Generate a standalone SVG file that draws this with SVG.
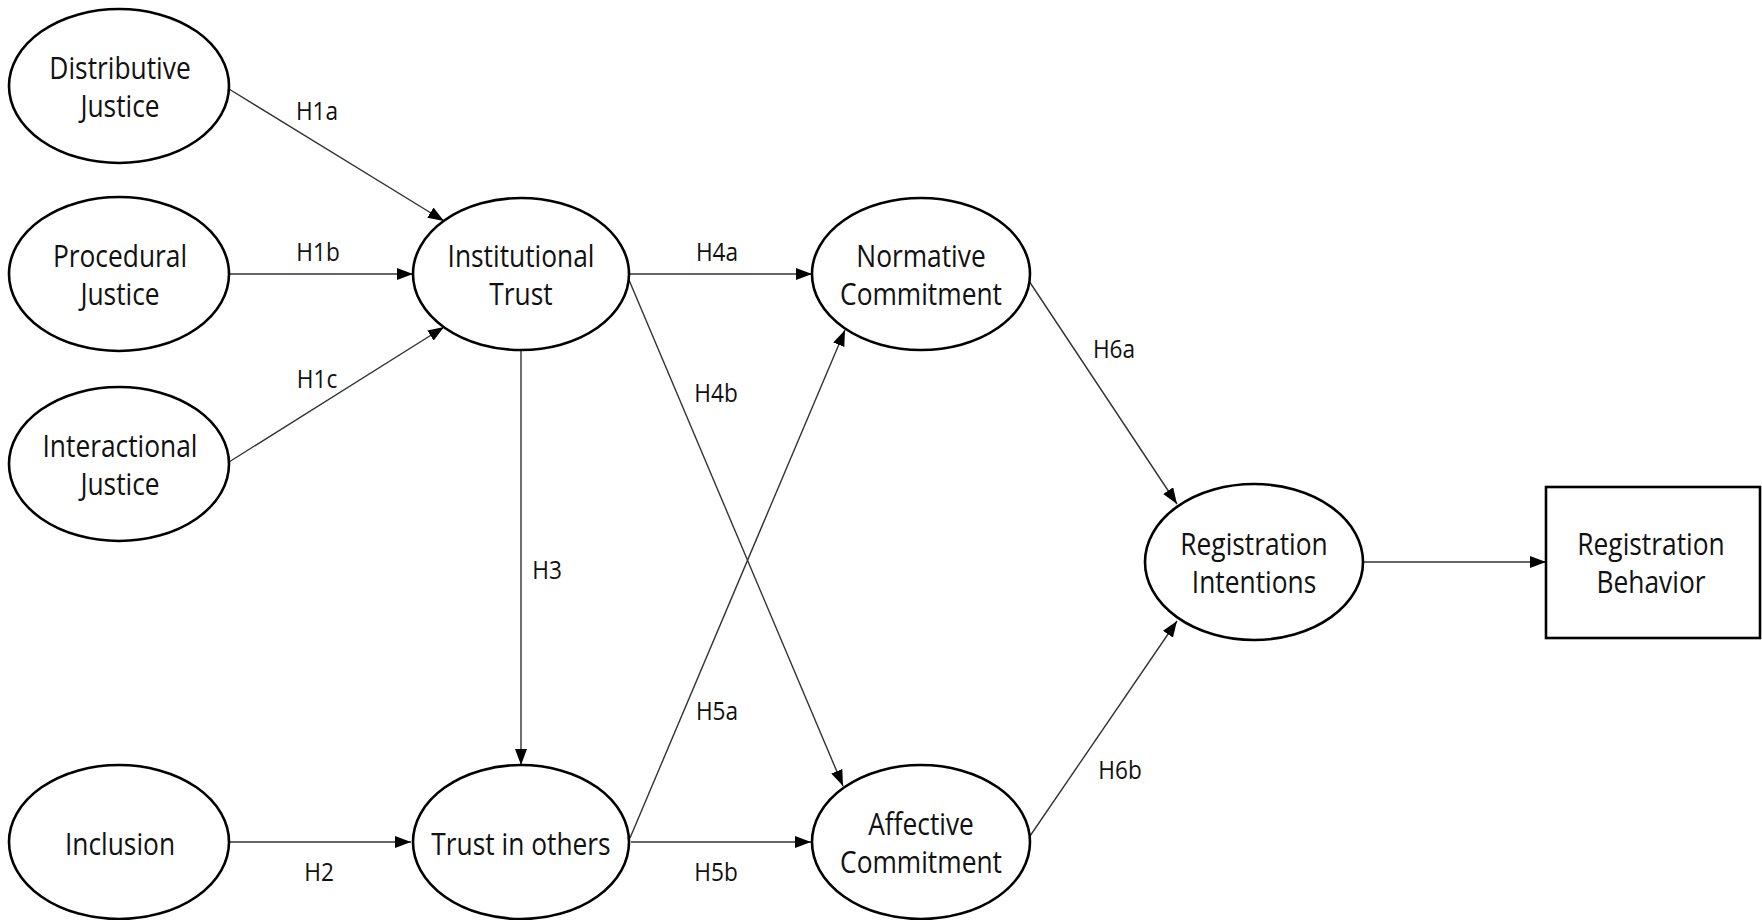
<svg xmlns="http://www.w3.org/2000/svg" width="1762" height="920" viewBox="0 0 1762 920">
<style>
.n ellipse, .n rect { fill: #fff; stroke: #000; stroke-width: 2.6; }
.n text { font-family: "Open Sans", "Noto Sans", sans-serif; font-size: 31px; fill: #111; text-anchor: middle; }
.c line { stroke: #333; stroke-width: 1.4; marker-end: url(#arr); }
.l { font-family: "Open Sans", "Noto Sans", sans-serif; font-size: 26px; fill: #111; text-anchor: middle; }
</style>
<defs>
<marker id="arr" viewBox="0 0 16 12" refX="16" refY="6" markerWidth="16" markerHeight="12" orient="auto" markerUnits="userSpaceOnUse">
<path d="M0,0 L16,6 L0,12 z" fill="#000"/>
</marker>
</defs>
<rect width="1762" height="920" fill="#fff"/>
<g id="connectors" class="c">
<line x1="229" y1="89" x2="444" y2="221"/>
<line x1="230" y1="274" x2="413" y2="274"/>
<line x1="229" y1="462" x2="444" y2="327"/>
<line x1="230" y1="842" x2="411" y2="842"/>
<line x1="521" y1="350" x2="521" y2="765"/>
<line x1="630" y1="274" x2="812" y2="274"/>
<line x1="629" y1="280" x2="843" y2="786"/>
<line x1="630" y1="838" x2="845" y2="330"/>
<line x1="631" y1="842" x2="811" y2="842"/>
<line x1="1029" y1="281" x2="1177" y2="504"/>
<line x1="1030" y1="836" x2="1177" y2="621"/>
<line x1="1363" y1="562" x2="1546" y2="562"/>
</g>
<g id="labels">
<text class="l" transform="translate(317 120) scale(.87 1)">H1a</text>
<text class="l" transform="translate(318 261) scale(.87 1)">H1b</text>
<text class="l" transform="translate(317 388) scale(.87 1)">H1c</text>
<text class="l" transform="translate(319 881) scale(.87 1)">H2</text>
<text class="l" transform="translate(547 579) scale(.87 1)">H3</text>
<text class="l" transform="translate(717 261) scale(.87 1)">H4a</text>
<text class="l" transform="translate(716 402) scale(.87 1)">H4b</text>
<text class="l" transform="translate(717 720) scale(.87 1)">H5a</text>
<text class="l" transform="translate(716 881) scale(.87 1)">H5b</text>
<text class="l" transform="translate(1114 358) scale(.87 1)">H6a</text>
<text class="l" transform="translate(1120 779) scale(.87 1)">H6b</text>
</g>
<g id="distributive-justice" class="n">
<ellipse cx="119" cy="86" rx="110" ry="77"/>
<text transform="translate(120 79) scale(.85 1)">Distributive</text>
<text transform="translate(120 117) scale(.85 1)">Justice</text>
</g>
<g id="procedural-justice" class="n">
<ellipse cx="119" cy="274" rx="110" ry="77"/>
<text transform="translate(120 267) scale(.85 1)">Procedural</text>
<text transform="translate(120 305) scale(.85 1)">Justice</text>
</g>
<g id="interactional-justice" class="n">
<ellipse cx="119" cy="464" rx="110" ry="77"/>
<text transform="translate(120 457) scale(.85 1)">Interactional</text>
<text transform="translate(120 495) scale(.85 1)">Justice</text>
</g>
<g id="inclusion" class="n">
<ellipse cx="119" cy="842" rx="110" ry="77"/>
<text transform="translate(120 855) scale(.85 1)">Inclusion</text>
</g>
<g id="institutional-trust" class="n">
<ellipse cx="521" cy="274" rx="108" ry="76"/>
<text transform="translate(521 267) scale(.85 1)">Institutional</text>
<text transform="translate(521 305) scale(.85 1)">Trust</text>
</g>
<g id="trust-in-others" class="n">
<ellipse cx="521" cy="842" rx="108" ry="77"/>
<text transform="translate(521 855) scale(.85 1)">Trust in others</text>
</g>
<g id="normative-commitment" class="n">
<ellipse cx="921" cy="274" rx="109" ry="76"/>
<text transform="translate(921 267) scale(.85 1)">Normative</text>
<text transform="translate(921 305) scale(.85 1)">Commitment</text>
</g>
<g id="affective-commitment" class="n">
<ellipse cx="921" cy="842" rx="109" ry="77"/>
<text transform="translate(921 835) scale(.85 1)">Affective</text>
<text transform="translate(921 873) scale(.85 1)">Commitment</text>
</g>
<g id="registration-intentions" class="n">
<ellipse cx="1254" cy="562" rx="109" ry="78"/>
<text transform="translate(1254 555) scale(.85 1)">Registration</text>
<text transform="translate(1254 593) scale(.85 1)">Intentions</text>
</g>
<g id="registration-behavior" class="n">
<rect x="1546" y="487" width="214" height="151"/>
<text transform="translate(1651 555) scale(.85 1)">Registration</text>
<text transform="translate(1651 593) scale(.85 1)">Behavior</text>
</g>
</svg>
